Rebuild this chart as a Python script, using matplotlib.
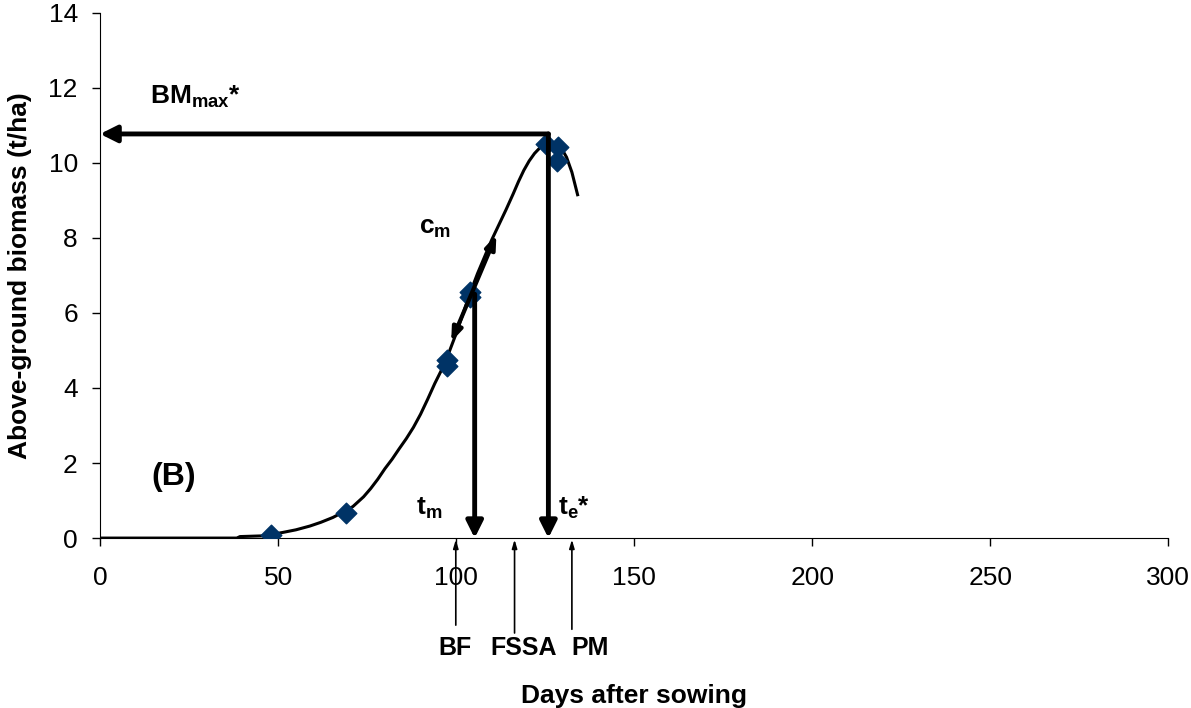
import matplotlib
matplotlib.use("Agg")
import matplotlib.pyplot as plt

plt.rcParams['font.family'] = ['Liberation Sans', 'DejaVu Sans']
plt.rcParams['mathtext.fontset'] = 'custom'
plt.rcParams['mathtext.rm'] = 'Liberation Sans:bold'
plt.rcParams['mathtext.bf'] = 'Liberation Sans:bold'
plt.rcParams['mathtext.default'] = 'bf'

# measured biomass (days after sowing, t/ha)
obs_days = [48, 69, 97.4, 97.4, 104, 104, 125.3, 128.5, 128.3]
obs_bm = [0.08, 0.67, 4.75, 4.58, 6.55, 6.42, 10.5, 10.42, 10.05]

# fitted curve
fit_days = [0, 20, 38.4, 39.3, 46, 51.3, 55, 58.9, 62, 65.4, 68, 71, 74, 76, 78, 80, 82,
            84, 86, 88, 90, 92, 94, 96, 98, 100, 102, 104, 106, 108, 110, 112, 114, 116,
            117.5, 119, 120.5, 122, 123.5, 125, 126.5, 128, 129.5, 131, 132.5, 134.1]
fit_bm = [0, 0, 0, 0.04, 0.06, 0.15, 0.22, 0.32, 0.42, 0.55, 0.68, 0.84, 1.1, 1.32, 1.57,
          1.85, 2.1, 2.38, 2.65, 2.95, 3.3, 3.7, 4.12, 4.5, 4.95, 5.45, 6.0, 6.55, 7.05,
          7.5, 7.95, 8.35, 8.75, 9.17, 9.5, 9.8, 10.05, 10.25, 10.4, 10.5, 10.55, 10.53,
          10.4, 10.15, 9.75, 9.15]

# key parameters
bm_max = 10.77
t_e = 125.9
t_m = 105.2
bm_tm = 6.5
cm_start = (98.6, 5.23)
cm_end = (111.3, 8.08)

# phenological stages
stage_names = ['BF', 'FSSA', 'PM']
stage_days = [99.9, 116.4, 132.5]
stage_tails = [-2.32, -2.53, -2.43]
stage_label_x = [99.7, 118.9, 137.7]

fig = plt.figure(figsize=(11.91, 7.08), dpi=100)
ax = fig.add_axes([0.084, 0.240, 0.897, 0.742])

ax.plot(fit_days, fit_bm, color='black', lw=2.2, zorder=3)
ax.scatter(obs_days, obs_bm, marker='D', s=110, color='#003366', zorder=4)

thick = dict(arrowstyle='-|>,head_length=1.0,head_width=0.5', color='black', lw=3.5,
             shrinkA=0, shrinkB=0)
ax.annotate('', xy=(0, bm_max), xytext=(t_e, bm_max), arrowprops=thick, zorder=5)
ax.annotate('', xy=(t_e, 0), xytext=(t_e, bm_max), arrowprops=thick, zorder=5)
ax.annotate('', xy=(t_m, 0), xytext=(t_m, bm_tm), arrowprops=thick, zorder=5)
ax.annotate('', xy=cm_end, xytext=cm_start,
            arrowprops=dict(arrowstyle='<|-|>,head_length=0.8,head_width=0.3', color='black',
                            lw=3, shrinkA=0, shrinkB=0), zorder=5)

for name, d, tail, lx in zip(stage_names, stage_days, stage_tails, stage_label_x):
    ax.annotate('', xy=(d, -0.04), xytext=(d, tail), annotation_clip=False,
                arrowprops=dict(arrowstyle='-|>,head_length=0.5,head_width=0.15',
                                color='black', lw=1.2, shrinkA=0, shrinkB=0))
    ax.text(lx, -2.93, name, ha='center', va='center', fontsize=18, fontweight='bold')

ax.text(14, 11.75, r'BM$_{max}$*', fontsize=19, fontweight='bold', va='center')
ax.text(89.5, 8.27, r'c$_{m}$', fontsize=19, fontweight='bold', va='center')
ax.text(88.8, 0.8, r't$_{m}$', fontsize=19, fontweight='bold', va='center')
ax.text(128.5, 0.8, r't$_{e}$*', fontsize=19, fontweight='bold', va='center')
ax.text(14.3, 1.62, '(B)', fontsize=23, fontweight='bold', va='center')

ax.set_xlim(0, 300)
ax.set_ylim(0, 14)
ax.set_xticks(range(0, 301, 50))
ax.set_yticks(range(0, 15, 2))
ax.tick_params(labelsize=19, direction='out', length=6, width=1)
ax.tick_params(axis='x', pad=14)
ax.tick_params(axis='y', pad=10)
ax.spines['top'].set_visible(False)
ax.spines['right'].set_visible(False)
ax.set_xlabel('Days after sowing', fontsize=19, fontweight='bold', labelpad=68)
ax.set_ylabel('Above-ground biomass (t/ha)', fontsize=19, fontweight='bold', labelpad=12)

fig.savefig('out.png', dpi=100)
